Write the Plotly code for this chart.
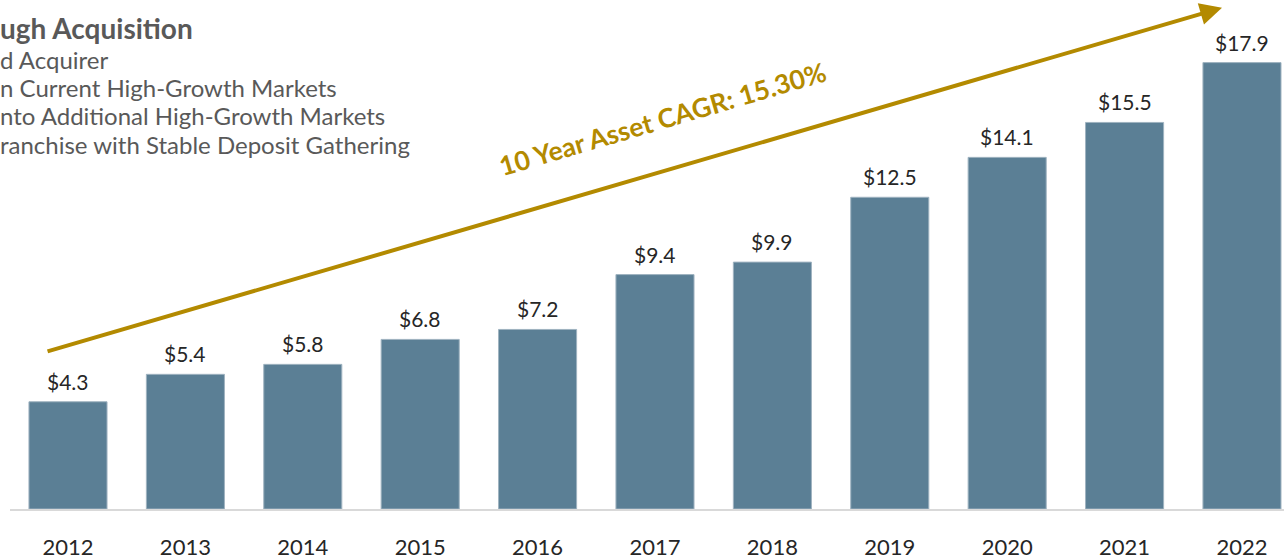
import plotly.graph_objects as go

years = ["2012", "2013", "2014", "2015", "2016", "2017", "2018", "2019", "2020", "2021", "2022"]
assets = [4.3, 5.4, 5.8, 6.8, 7.2, 9.4, 9.9, 12.5, 14.1, 15.5, 17.9]
value_labels = ["$4.3", "$5.4", "$5.8", "$6.8", "$7.2", "$9.4", "$9.9", "$12.5", "$14.1", "$15.5", "$17.9"]

title_text = "ugh Acquisition"
bullet_lines = [
    "d Acquirer",
    "n Current High-Growth Markets",
    "nto Additional High-Growth Markets",
    "ranchise with Stable Deposit Gathering",
]
cagr_text = "10 Year Asset CAGR: 15.30%"

FONT = "Lato, 'Open Sans', sans-serif"
GOLD = "#B38A00"
BAR = "#5B7F95"
GRAY = "#595959"

xs = list(range(len(years)))

fig = go.Figure()
fig.add_trace(go.Bar(
    x=xs, y=assets,
    marker=dict(color=BAR, line=dict(color="#9fb3c0", width=1)),
    width=0.665,
    hoverinfo="skip",
))

# value labels above bars
for xi, yi, lab in zip(xs, assets, value_labels):
    fig.add_annotation(
        x=xi, y=yi, xref="x", yref="y",
        text=lab, showarrow=False,
        yanchor="bottom", yshift=6,
        font=dict(family=FONT, size=21, color="#262626"),
    )

fig.update_layout(
    width=1284, height=560,
    margin=dict(l=10, r=0, t=0, b=48),
    paper_bgcolor="white", plot_bgcolor="white",
    showlegend=False,
    xaxis=dict(
        range=[-0.494, 10.358],
        tickmode="array", tickvals=xs, ticktext=years,
        tickfont=dict(family=FONT, size=22, color="#262626"),
        showgrid=False, zeroline=False,
        showline=True, linecolor="#d9d9d9", linewidth=2,
        ticks="", ticklabelstandoff=18,
    ),
    yaxis=dict(
        range=[0, 20.41], visible=False, showgrid=False, zeroline=False,
    ),
)

# Arrow
fig.add_annotation(
    x=9.83, y=20.1, ax=-0.187, ay=6.30,
    xref="x", yref="y", axref="x", ayref="y",
    showarrow=True, arrowhead=2, arrowsize=1.1, arrowwidth=4,
    arrowcolor=GOLD, text="",
)

# CAGR label
fig.add_annotation(
    x=5.06, y=15.64, xref="x", yref="y",
    text="<b>" + cagr_text + "</b>", showarrow=False,
    textangle=-16.4,
    font=dict(family=FONT, size=26.5, color=GOLD),
)

# Title block (cut at the left edge)
title_anns = []
title_anns.append(dict(text="<b>" + title_text + "</b>", px=-2, py=28, size=28))
line_y = [60, 88, 116, 145]
for txt, py in zip(bullet_lines, line_y):
    title_anns.append(dict(text=txt, px=-2, py=py, size=24))

for a in title_anns:
    fig.add_annotation(
        x=(a["px"] - 10) / (1284 - 10), y=1 - a["py"] / 512,
        xref="paper", yref="paper",
        text=a["text"], showarrow=False,
        xanchor="left", yanchor="middle",
        font=dict(family=FONT, size=a["size"], color=GRAY),
    )

fig.write_html("out.html", config={"displayModeBar": False},
               post_script="document.body.style.margin='0';")
